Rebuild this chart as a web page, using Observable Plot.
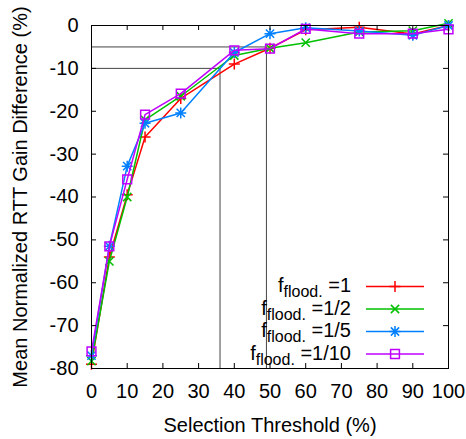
<!DOCTYPE html>
<html>
<head>
<meta charset="utf-8">
<script src="https://cdn.jsdelivr.net/npm/d3@7"></script>
<script src="https://cdn.jsdelivr.net/npm/@observablehq/plot@0.6"></script>
<style>
  html, body { margin: 0; padding: 0; background: #fff; }
</style>
</head>
<body>
<div id="chart"></div>
<script>
// ---- data ----
const thresholds = [0, 5, 10, 15, 25, 40, 50, 60, 75, 90, 100];
const gainFlood1   = [-79.0, -54.0, -39.5, -26.0, -17.0, -9.0, -5.3, -1.0, -0.4, -2.0, 0.0];
const gainFlood1_2 = [-78.3, -55.0, -40.0, -22.0, -16.5, -7.0, -5.3, -4.0, -1.5, -1.2, 0.5];
const gainFlood1_5 = [-77.0, -51.5, -32.8, -22.8, -20.4, -6.3, -1.9, -0.5, -1.3, -2.3, 0.0];
const gainFlood1_10= [-76.0, -51.5, -35.9, -20.8, -15.9, -5.8, -5.4, -0.8, -1.9, -1.9, -0.9];
const seriesLabels = ["1", "1/2", "1/5", "1/10"];
const seriesColors = ["#ff0000", "#00c000", "#0080ff", "#c000ff"];
const seriesSymbols = ["plus", "cross", "star", "square"];
const xTicks = [0, 10, 20, 30, 40, 50, 60, 70, 80, 90, 100];
const yTicks = [0, -10, -20, -30, -40, -50, -60, -70, -80];
const guideX = [36, 49];
const guideY = [-10, -5];
const xLabel = "Selection Threshold (%)";
const yLabel = "Mean Normalized RTT Gain Difference (%)";

// ---- layout ----
const W = 466, H = 439;
const M = {top: 25, right: 18, bottom: 71, left: 91};
const plotW = W - M.left - M.right, plotH = H - M.top - M.bottom;
const TICK = 5;
const FONT = "'Liberation Sans', Arial, sans-serif";
const xDomain = [0, 100], yDomain = [-80, 0];

function makeSymbol(kind) {
  return {
    draw(c, size) {
      const r = Math.sqrt(size / Math.PI);
      if (kind === "plus" || kind === "star") {
        c.moveTo(-r, 0); c.lineTo(r, 0);
        c.moveTo(0, -r); c.lineTo(0, r);
      }
      if (kind === "cross" || kind === "star") {
        const q = r * 0.75;
        c.moveTo(-q, -q); c.lineTo(q, q);
        c.moveTo(-q, q); c.lineTo(q, -q);
      }
      if (kind === "square") {
        const q = r * 0.8;
        c.moveTo(-q, -q); c.lineTo(q, -q); c.lineTo(q, q); c.lineTo(-q, q); c.closePath();
      }
    }
  };
}

const allSeries = [gainFlood1, gainFlood1_2, gainFlood1_5, gainFlood1_10]
  .map((vals, s) => thresholds.map((x, i) => ({x, y: vals[i], s})));
const guides = guideX.map((x, i) => ({x, y: guideY[i]}));
const R = 5.5;

const plot = Plot.plot({
  width: W, height: H,
  marginTop: M.top, marginRight: M.right, marginBottom: M.bottom, marginLeft: M.left,
  x: {domain: xDomain},
  y: {domain: yDomain},
  style: {fontSize: "20px", fontFamily: FONT, background: "#fff", color: "#000"},
  marks: [
    Plot.ruleX(guides, {x: "x", y1: yDomain[0], y2: "y", stroke: "#444", strokeWidth: 1}),
    Plot.ruleY(guides, {y: "y", x1: xDomain[0], x2: "x", stroke: "#444", strokeWidth: 1}),
    ...allSeries.flatMap((data, s) => [
      Plot.line(data, {x: "x", y: "y", stroke: seriesColors[s], strokeWidth: 1.5}),
      Plot.dot(data, {x: "x", y: "y", symbol: makeSymbol(seriesSymbols[s]), r: R,
        stroke: seriesColors[s], fill: "none", strokeWidth: 1.5})
    ]),
    Plot.frame({stroke: "#000", strokeWidth: 1}),
    Plot.tickX(xTicks, {x: d => d, insetTop: plotH - TICK, stroke: "#000"}),
    Plot.tickX(xTicks, {x: d => d, insetBottom: plotH - TICK, stroke: "#000"}),
    Plot.tickY(yTicks, {y: d => d, insetRight: plotW - TICK, stroke: "#000"}),
    Plot.tickY(yTicks, {y: d => d, insetLeft: plotW - TICK, stroke: "#000"}),
    Plot.axisX(xTicks, {tickSize: 0, tickPadding: 15, tickFormat: d => String(d),
      label: xLabel, labelAnchor: "center", labelArrow: "none", labelOffset: 63}),
    Plot.axisY(yTicks, {tickSize: 0, tickPadding: 13, tickFormat: d => String(d),
      label: yLabel, labelAnchor: "center", labelArrow: "none", labelOffset: 79})
  ]
});

// ---- legend (inside plot, bottom right) ----
const svg = d3.select(plot);
const lg = svg.append("g").attr("font-family", FONT).attr("font-size", 20);
const LEG_TX = 351, LEG_Y0 = 292, LEG_DY = 22.5, LEG_X1 = 366, LEG_X2 = 424, LEG_MX = 395;
seriesLabels.forEach((lab, i) => {
  const yb = LEG_Y0 + i * LEG_DY;
  const ym = yb - 5.5;
  const t = lg.append("text").attr("x", LEG_TX).attr("y", yb)
    .attr("text-anchor", "end").attr("fill", "#000").style("white-space", "pre");
  t.append("tspan").text("f");
  t.append("tspan").attr("font-size", 16).attr("dy", 5).text("flood.");
  t.append("tspan").attr("dy", -5).text(" =" + lab);
  lg.append("line").attr("x1", LEG_X1).attr("x2", LEG_X2).attr("y1", ym).attr("y2", ym)
    .attr("stroke", seriesColors[i]).attr("stroke-width", 1.5);
  lg.append("path").attr("transform", `translate(${LEG_MX},${ym})`)
    .attr("d", d3.symbol(makeSymbol(seriesSymbols[i]), R * R * Math.PI)())
    .attr("fill", "none").attr("stroke", seriesColors[i]).attr("stroke-width", 1.5);
});

document.getElementById("chart").appendChild(plot);
</script>
</body>
</html>
